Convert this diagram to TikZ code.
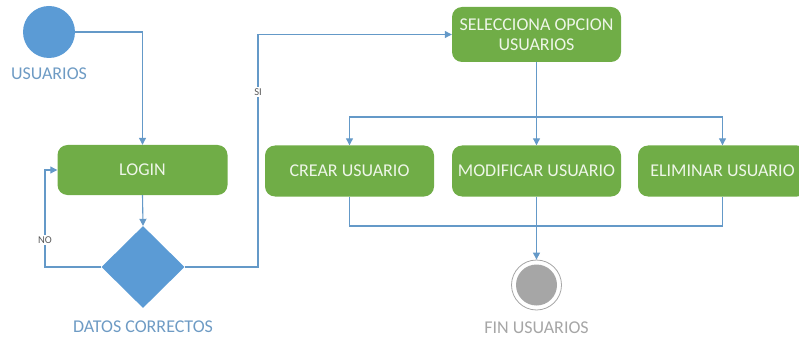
\documentclass[tikz,border=0pt]{standalone}
\usepackage{fontspec}
\setmainfont{Carlito}
\usetikzlibrary{arrows.meta,shapes.geometric}
\definecolor{actgreen}{HTML}{70AD47}
\definecolor{acttext}{HTML}{EEF6E8}
\definecolor{nodeblue}{HTML}{5B9BD5}
\definecolor{flowblue}{HTML}{6499C8}
\definecolor{lblblue}{HTML}{6E9BC4}
\definecolor{endgray}{HTML}{A6A6A6}
\definecolor{guardgray}{HTML}{595959}
\begin{document}
\begin{tikzpicture}[x=1pt,y=-1pt,
  act/.style={rectangle, rounded corners=10pt, fill=actgreen, draw=none,
    text=acttext, font=\fontsize{18}{20.5}\selectfont, align=center,
    minimum width=169pt, minimum height=51pt, inner sep=0pt},
  startnode/.style={circle, fill=nodeblue, draw=none, minimum size=52pt, inner sep=0pt},
  decision/.style={diamond, fill=nodeblue, draw=none, minimum width=83pt,
    minimum height=82pt, inner sep=0pt, aspect=1},
  endnode/.style={circle, draw=endgray, line width=0.8pt, fill=white,
    minimum size=50pt, inner sep=0pt},
  endcore/.style={circle, fill=endgray, draw=none, minimum size=41pt, inner sep=0pt},
  lbl/.style={font=\fontsize{18}{20}\selectfont, text=lblblue, inner sep=0pt},
  endlbl/.style={font=\fontsize{18}{20}\selectfont, text=endgray, inner sep=0pt},
  guard/.style={font=\fontsize{10.5}{12}\selectfont, text=guardgray, fill=white, inner sep=1.5pt},
  link/.style={draw=flowblue, line width=1.1pt},
  flow/.style={link, -{Triangle[width=7pt,length=7pt]}}
]
\useasboundingbox (0,0) rectangle (799,339);

% start state
\node[startnode] (start) at (49,32) {};
\node[lbl] (startlbl) at (49,74) {USUARIOS};

% login and credential check
\node[act, minimum width=170pt, minimum height=50pt] (login) at (142.5,170) {LOGIN};
\node[decision] (check) at (143,267) {};
\node[lbl] (checklbl) at (143,327) {DATOS CORRECTOS};

% option selection
\node[act, minimum height=55pt] (select) at (536.5,34.5) {SELECCIONA OPCION\\USUARIOS};

% user operations
\node[act] (create) at (349.5,171) {CREAR USUARIO};
\node[act] (modify) at (536.5,171) {MODIFICAR USUARIO};
\node[act] (delete) at (722.5,171) {ELIMINAR USUARIO};

% final state
\node[endnode] (fin) at (536.5,285) {};
\node[endcore] (fincore) at (fin.center) {};
\node[endlbl] (finlbl) at (536.5,328) {FIN USUARIOS};

% routing points
\coordinate (nocorner) at (45,267);
\coordinate (sicorner) at (258,267);
\coordinate (fork) at (536.5,117);
\coordinate (join) at (536.5,226);

% connectors
\draw[flow] (start.east) -| (login.north);
\draw[flow] (login.south) -- (check.north);
\draw[flow] (check.west) -- (nocorner) |- (login.west)
  node[guard, pos=0.14] {NO};
\draw[flow] (check.east) -- (sicorner) |- (select.west)
  node[guard, pos=0.377] {SI};
\draw[link] (select.south) -- (fork);
\draw[flow] (fork) -| (create.north);
\draw[flow] (fork) -| (delete.north);
\draw[flow] (fork) -- (modify.north);
\draw[link] (create.south) |- (join) -| (delete.south);
\draw[flow] (modify.south) -- (fin.north);
\end{tikzpicture}
\end{document}
